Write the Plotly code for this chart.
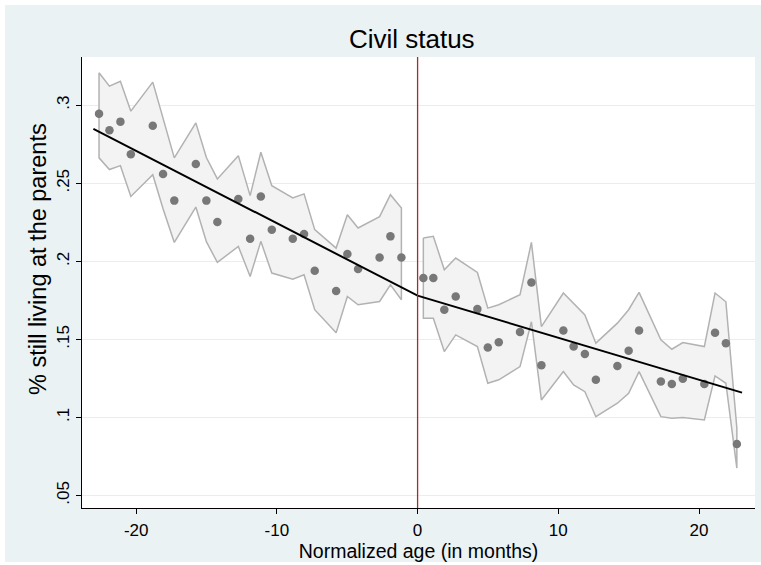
import plotly.graph_objects as go

# ---------------- data ----------------
# bins left of the cutoff
x_left = [-22.64, -21.90, -21.12, -20.38, -18.82, -18.09, -17.29, -15.76, -15.01,
          -14.23, -12.74, -11.90, -11.14, -10.36, -8.87, -8.07, -7.31, -5.79,
          -4.99, -4.23, -2.70, -1.93, -1.15]
y_left = [0.2945, 0.2840, 0.2895, 0.2686, 0.2868, 0.2560, 0.2389, 0.2624, 0.2389,
          0.2252, 0.2400, 0.2145, 0.2416, 0.2203, 0.2145, 0.2175, 0.1940, 0.1810,
          0.2047, 0.1951, 0.2025, 0.2160, 0.2025]
ci_up_left = [0.3208, 0.3122, 0.3154, 0.2962, 0.3148, 0.2908, 0.2663, 0.2887, 0.2665,
              0.2528, 0.2677, 0.2421, 0.2699, 0.2485, 0.2406, 0.2432, 0.2203, 0.2085,
              0.2299, 0.2214, 0.2286, 0.2427, 0.2342]
ci_lo_left = [0.2663, 0.2588, 0.2613, 0.2416, 0.2555, 0.2337, 0.2121, 0.2348, 0.2126,
              0.1993, 0.2096, 0.1903, 0.2128, 0.1925, 0.1886, 0.1914, 0.1690, 0.1542,
              0.1775, 0.1722, 0.1743, 0.1850, 0.1754]

# bins right of the cutoff
x_right = [0.41, 1.12, 1.90, 2.71, 4.25, 4.99, 5.77, 7.28, 8.09, 8.80, 10.36, 11.09,
           11.89, 12.67, 14.20, 15.00, 15.74, 17.29, 18.07, 18.85, 20.38, 21.14,
           21.91, 22.69]
y_right = [0.1893, 0.1893, 0.1690, 0.1775, 0.1694, 0.1448, 0.1482, 0.1548, 0.1865,
           0.1335, 0.1557, 0.1454, 0.1407, 0.1241, 0.1330, 0.1427, 0.1557, 0.1231,
           0.1215, 0.1248, 0.1215, 0.1543, 0.1476, 0.0830]
ci_up_right = [0.2149, 0.2160, 0.1946, 0.2021, 0.1929, 0.1700, 0.1722, 0.1786, 0.2121,
               0.1582, 0.1797, 0.1733, 0.1657, 0.1476, 0.1604, 0.1690, 0.1801, 0.1497,
               0.1437, 0.1480, 0.1454, 0.1797, 0.1741, 0.0933]
ci_lo_right = [0.1636, 0.1636, 0.1422, 0.1529, 0.1454, 0.1219, 0.1241, 0.1326, 0.1613,
               0.1112, 0.1294, 0.1208, 0.1165, 0.1005, 0.1091, 0.1155, 0.1294, 0.1005,
               0.0995, 0.0999, 0.0984, 0.1266, 0.1219, 0.0676]

# linear fits on both sides of the cutoff
fit_x = [-23.04, 0.0, 23.06]
fit_y = [0.2849, 0.1780, 0.1159]

cutoff = 0
x_tickvals = [-20, -10, 0, 10, 20]
x_ticktext = ["-20", "-10", "0", "10", "20"]
y_tickvals = [0.05, 0.10, 0.15, 0.20, 0.25, 0.30]
y_ticktext = [".05", ".1", ".15", ".2", ".25", ".3"]

title_text = "Civil status"
x_title = "Normalized age (in months)"
y_title = "% still living at the parents"

# ---------------- styling ----------------
W, H = 761, 565
ML, MR, MT, MB = 82, 6, 57, 57
PW, PH = W - ML - MR, H - MT - MB
FONT = "Liberation Sans, Arial, sans-serif"
BAND_FILL = "rgb(243,243,243)"
BAND_LINE = "rgb(178,178,178)"
DOT = "rgb(120,120,120)"

fig = go.Figure()


def band(xs, up, lo):
    bx = list(xs) + list(xs)[::-1] + [xs[0]]
    by = list(up) + list(lo)[::-1] + [up[0]]
    fig.add_trace(go.Scatter(x=bx, y=by, mode="lines", fill="toself",
                             fillcolor=BAND_FILL,
                             line=dict(color=BAND_LINE, width=1.5),
                             hoverinfo="skip", showlegend=False))


band(x_left, ci_up_left, ci_lo_left)
band(x_right, ci_up_right, ci_lo_right)

fig.add_trace(go.Scatter(x=x_left + x_right, y=y_left + y_right, mode="markers",
                         marker=dict(color=DOT, size=8.5, line=dict(width=0)),
                         showlegend=False))

fig.add_trace(go.Scatter(x=fit_x, y=fit_y, mode="lines",
                         line=dict(color="black", width=2), showlegend=False))

fig.add_shape(type="line", xref="x", yref="paper", x0=cutoff, x1=cutoff, y0=0, y1=1,
              line=dict(color="rgb(168,42,42)", width=1.3), layer="above")


def px_x(p):
    return (p - ML) / PW


def px_y(p):
    return (H - MB - p) / PH


# white frame strips around the light blue-grey graph region
for (a, b, c, d) in [(0, 5, 0, H), (0, W, 0, 5), (0, W, 562, H)]:
    fig.add_shape(type="rect", xref="paper", yref="paper",
                  x0=px_x(a), x1=px_x(b), y0=px_y(d), y1=px_y(c),
                  fillcolor="white", line=dict(width=0), layer="above")

# y axis title (placed as rotated text, as in the reference)
fig.add_annotation(text=y_title, textangle=-90, showarrow=False,
                   xref="paper", yref="paper", x=px_x(38), y=px_y(259),
                   xanchor="center", yanchor="middle",
                   font=dict(size=23.5, family=FONT, color="black"))

fig.update_layout(
    template="none",
    width=W, height=H,
    margin=dict(l=ML, r=MR, t=MT, b=MB, pad=0),
    paper_bgcolor="rgb(234,242,243)",
    plot_bgcolor="white",
    font=dict(family=FONT, color="black", size=17),
    title=dict(text=title_text, x=0.49, xref="paper", xanchor="center",
               y=1 - 39 / H, yref="container", yanchor="middle",
               font=dict(size=26, family=FONT, color="black")),
    showlegend=False,
    xaxis=dict(range=[-23.85, 23.98], tickvals=x_tickvals, ticktext=x_ticktext,
               showline=True, linecolor="black", linewidth=1,
               ticks="outside", ticklen=5, tickcolor="black", tickwidth=1,
               showgrid=False, zeroline=False, automargin=False,
               tickfont=dict(size=17), ticklabelstandoff=2,
               title=dict(text=x_title, font=dict(size=19.5), standoff=4)),
    yaxis=dict(range=[0.042, 0.3309], tickvals=y_tickvals, ticktext=y_ticktext,
               tickangle=-90,
               showline=True, linecolor="black", linewidth=1,
               ticks="outside", ticklen=5, tickcolor="black", tickwidth=1,
               showgrid=True, gridcolor="rgb(232,238,240)", gridwidth=1,
               zeroline=False, automargin=False,
               tickfont=dict(size=17)),
)

fig.write_html("out.html")
